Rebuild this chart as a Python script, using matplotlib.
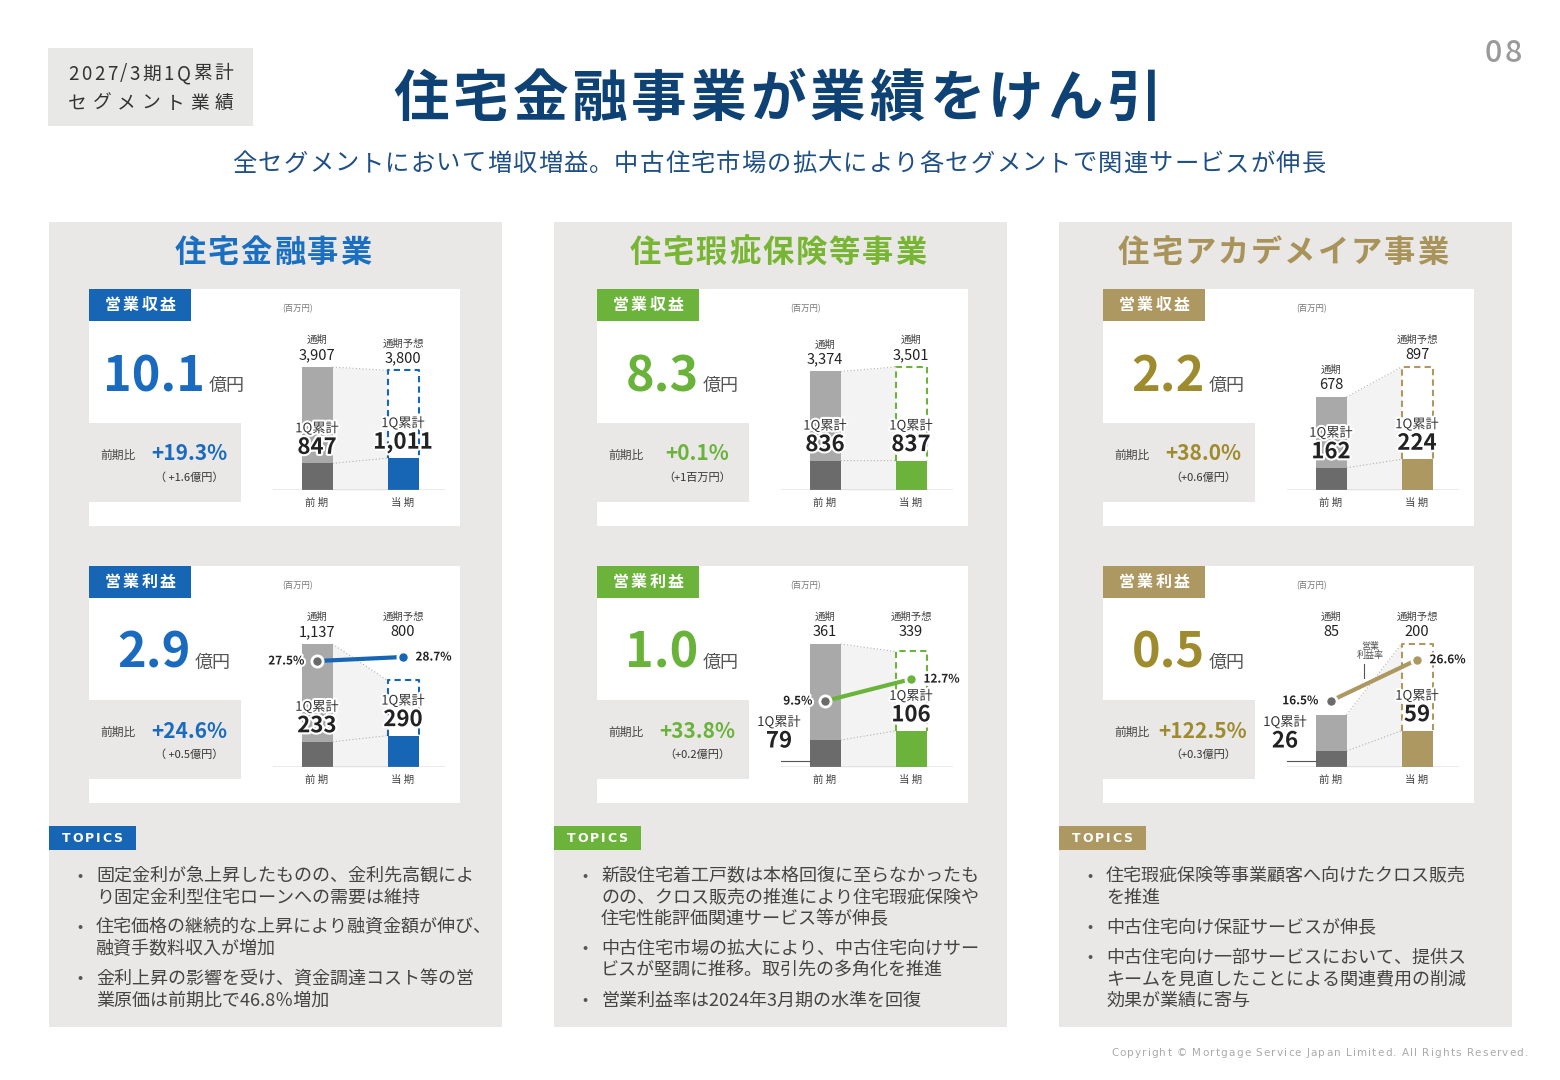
import matplotlib
matplotlib.use('Agg')
import matplotlib.pyplot as plt
import matplotlib.patheffects as pe
from matplotlib.patches import Rectangle

plt.rcParams['font.family'] = ['Noto Sans CJK JP', 'DejaVu Sans']

W, H = 1560, 1080

# ---- data ----
segments = ['住宅金融事業', '住宅瑕疵保険等事業', '住宅アカデメイア事業']

rev_prev_full = [3907, 3374, 678]
rev_prev_1q = [847, 836, 162]
rev_forecast = [3800, 3501, 897]
rev_cur_1q = [1011, 837, 224]
rev_forecast_label = ['通期予想', '通期', '通期予想']
rev_oku = ['10.1', '8.3', '2.2']
rev_yoy = ['+19.3%', '+0.1%', '+38.0%']
rev_diff = ['（ +1.6億円）', '（+1百万円）', '（+0.6億円）']

op_prev_full = [1137, 361, 85]
op_prev_1q = [233, 79, 26]
op_forecast = [800, 339, 200]
op_cur_1q = [290, 106, 59]
margin_prev = [27.5, 9.5, 16.5]
margin_cur = [28.7, 12.7, 26.6]
op_oku = ['2.9', '1.0', '0.5']
op_yoy = ['+24.6%', '+33.8%', '+122.5%']
op_diff = ['（ +0.5億円）', '（+0.2億円）', '（+0.3億円）']

period_labels = ['前期', '当期']

topics = [
    [['固定金利が急上昇したものの、金利先高観によ', 'り固定金利型住宅ローンへの需要は維持'],
     ['住宅価格の継続的な上昇により融資金額が伸び、', '融資手数料収入が増加'],
     ['金利上昇の影響を受け、資金調達コスト等の営', '業原価は前期比で46.8％増加']],
    [['新設住宅着工戸数は本格回復に至らなかったも', 'のの、クロス販売の推進により住宅瑕疵保険や',
      '住宅性能評価関連サービス等が伸長'],
     ['中古住宅市場の拡大により、中古住宅向けサー', 'ビスが堅調に推移。取引先の多角化を推進'],
     ['営業利益率は2024年3月期の水準を回復']],
    [['住宅瑕疵保険等事業顧客へ向けたクロス販売', 'を推進'],
     ['中古住宅向け保証サービスが伸長'],
     ['中古住宅向け一部サービスにおいて、提供ス', 'キームを見直したことによる関連費用の削減',
      '効果が業績に寄与']],
]

# ---- layout / style ----
panel_x = [49, 554, 1059]
card_x = [89, 597, 1103]
accent = ['#1766b5', '#6cb33c', '#ad9862']
title_col = ['#1b6fc1', '#78b532', '#a8935a']
number_col = ['#1a6bbf', '#6ab33a', '#9e8b2e']
margin_lim = [(-4.3, 43.7), (-0.1, 23.2), (0.2, 39.6)]
# (text x, text y, tick x, tick y0, tick y1) relative to the profit card
rate_note = [(269, 123, 263, 99, 111), (266, 94, 260, 107, 121), (267, 85, 261, 98, 112)]
op_1q_outside = [False, True, True]

PANEL_BG = '#e9e8e6'
LIGHT = '#a9a9a9'
DARK = '#6b6b6b'
TXT = '#222222'
white_edge = [pe.withStroke(linewidth=3, foreground='white')]

fig = plt.figure(figsize=(W / 100, H / 100), dpi=100)
bg = fig.add_axes([0, 0, 1, 1])
bg.set_xlim(0, W)
bg.set_ylim(H, 0)
bg.axis('off')
renderer = fig.canvas.get_renderer()


def rect(x, y, w, h, color, **kw):
    bg.add_patch(Rectangle((x, y), w, h, facecolor=color, edgecolor='none', **kw))


def tracked(x, y, s, track, ha='left', **kw):
    # place characters one by one so letter spacing can be widened
    texts = [bg.text(0, y, ch, va='center', **kw) for ch in s]
    size_px = kw.get('fontsize', 10) * 100 / 72
    widths = []
    for ch, t in zip(s, texts):
        w = t.get_window_extent(renderer).width
        if ch == ' ':
            w = size_px * 0.3
        widths.append(w)
    total = sum(widths) + track * (len(s) - 1)
    pos = x - {'left': 0, 'center': total / 2, 'right': total}[ha]
    for t, w in zip(texts, widths):
        t.set_x(pos)
        pos += w + track


# header
rect(48, 48, 205, 78, '#e8e8e6')
tracked(68, 74, '2027/3期1Q累計', 2.5, fontsize=13.5, color='#333')
tracked(68, 103, 'セグメント業績', 5.7, fontsize=13.5, color='#333')
tracked(1503, 54, '08', 3, ha='center', fontsize=22, color='#9a9a9a', weight='medium')
tracked(778, 100, '住宅金融事業が業績をけん引', 4, ha='center', fontsize=40, weight='bold',
        color='#0f4274')
tracked(779, 164, '全セグメントにおいて増収増益。中古住宅市場の拡大により各セグメントで関連サービスが伸長',
        1.2, ha='center', fontsize=17.5, color='#1f4f85')
tracked(1528, 1053, 'Copyright © Mortgage Service Japan Limited. All Rights Reserved.', 1.15,
        ha='right', fontsize=7.5, color='#aaaaaa', family='DejaVu Sans')


def number_block(cx, base, num, color):
    t1 = bg.text(0, base, num, fontsize=35, weight='bold', color=color, va='baseline')
    t2 = bg.text(0, base, '億円', fontsize=13, color='#555', va='baseline')
    w1 = t1.get_window_extent(renderer).width
    w2 = t2.get_window_extent(renderer).width
    left = cx - (w1 + 4 + w2) / 2
    t1.set_x(left)
    t2.set_x(left + w1 + 4)


def chart(i, base_y, full, q1, fc, cur, fc_label, fixed_row, m=None, outside=False):
    left = card_x[i] + 184
    ax = fig.add_axes([left / W, 1 - base_y / H, 172 / W, 160 / H])
    ymax = max(full, fc) * 160 / 123
    ax.set_xlim(-44 / 86, 128 / 86)
    ax.set_ylim(0, ymax)
    ax.axis('off')
    py = ymax / 160
    bw = 31 / 86
    xs = [bw / 2, 1 - bw / 2]
    ax.fill_between(xs, [full, fc], 0, color='#f3f3f3', lw=0, zorder=1)
    ax.plot(xs, [full, fc], ls=(0, (1, 2)), color='#b0b0b0', lw=0.8, zorder=1.5)
    ax.plot(xs, [q1, cur], ls=(0, (1, 2)), color='#b0b0b0', lw=0.8, zorder=1.5)
    ax.bar(0, full, bw, color=LIGHT, zorder=2)
    ax.bar(0, q1, bw, color=DARK, zorder=2.1)
    ax.bar(1, cur, bw, color=accent[i], zorder=2.2)
    # dashed outline for the full-year forecast, above the 1Q bar
    ax.plot([1 - bw / 2, 1 - bw / 2, 1 + bw / 2, 1 + bw / 2], [cur, fc, fc, cur],
            color=accent[i], ls=(0, (3, 2)), lw=1.5, zorder=2.3)
    ax.axhline(0, color='#9a9a9a', lw=1, zorder=3)
    for x, lab in zip([0, 1], period_labels):
        ax.annotate(lab[0] + ' ' + lab[1], (x, 0), xytext=(0, -9), textcoords='offset points',
                    ha='center', va='center', fontsize=7.5, color='#444')

    for x, v, lab in [(0, full, '通期'), (1, fc, fc_label)]:
        if fixed_row:
            ny, ly = 135 * py, 150 * py
        else:
            ny, ly = v + 12 * py, v + 27 * py
        ax.text(x, ny, f'{v:,}', ha='center', va='center', fontsize=10.5, color=TXT)
        ax.text(x, ly, lab, ha='center', va='center', fontsize=7.5, color='#444')

    for x, v, out in [(0, q1, outside), (1, cur, False)]:
        if out:
            tx, ny, ly = x - 46 / 86, 26 * py, 45 * py
            ax.plot([tx, tx, -bw / 2], [13 * py, 6 * py, 6 * py], color='#555', lw=0.8, zorder=3)
        else:
            tx, ny, ly = x, v + 16 * py, v + 35 * py
        ax.text(tx, ly, '1Q累計', ha='center', va='center', fontsize=9.5, color='#333',
                path_effects=white_edge, zorder=6)
        ax.text(tx, ny, f'{v:,}', ha='center', va='center', fontsize=16, weight='bold',
                color=TXT, path_effects=white_edge, zorder=6)

    if m is not None:
        ax2 = ax.twinx()
        ax2.set_ylim(margin_lim[i])
        ax2.axis('off')
        ax2.plot([0, 1], m, color=accent[i], lw=3, zorder=4)
        ax2.scatter([0], [m[0]], s=65, color='#6b6b6b', edgecolor='white', linewidth=2, zorder=5)
        ax2.scatter([1], [m[1]], s=65, color=accent[i], edgecolor='white', linewidth=2, zorder=5)
        ax2.annotate(f'{m[0]}%', (0, m[0]), xytext=(-9, 0), textcoords='offset points',
                     ha='right', va='center', fontsize=8.5, weight='bold', color=TXT,
                     path_effects=white_edge)
        ax2.annotate(f'{m[1]}%', (1, m[1]), xytext=(9, 0), textcoords='offset points',
                     ha='left', va='center', fontsize=8.5, weight='bold', color=TXT,
                     path_effects=white_edge)


def card(i, top, tag, oku, yoy, diff):
    cx = card_x[i]
    rect(cx, top, 371, 237, 'white')
    rect(cx, top, 102, 32, accent[i])
    tracked(cx + 51, top + 16, tag, 2.3, ha='center', fontsize=11.5, weight='bold', color='white')
    number_block(cx + 85, top + 102, oku, number_col[i])
    rect(cx, top + 134, 152, 79, PANEL_BG)
    bg.text(cx + 11, top + 166, '前期比', fontsize=8.5, color='#444', va='center')
    bg.text(cx + 100, top + 165, yoy, fontsize=15, weight='bold', color=number_col[i],
            ha='center', va='center')
    bg.text(cx + 100, top + 189, diff, fontsize=8, color='#333', ha='center', va='center')
    bg.text(cx + 209, top + 20, '(百万円)', fontsize=6, color='#777', ha='center', va='center')


for i in range(3):
    px = panel_x[i]
    rect(px, 222, 453, 805, PANEL_BG)
    tracked(px + 224, 253, segments[i], 2, ha='center', fontsize=22.5, weight='bold',
            color=title_col[i])

    card(i, 289, '営業収益', rev_oku[i], rev_yoy[i], rev_diff[i])
    chart(i, 490, rev_prev_full[i], rev_prev_1q[i], rev_forecast[i], rev_cur_1q[i],
          rev_forecast_label[i], False)

    card(i, 566, '営業利益', op_oku[i], op_yoy[i], op_diff[i])
    chart(i, 767, op_prev_full[i], op_prev_1q[i], op_forecast[i], op_cur_1q[i],
          '通期予想', True, m=[margin_prev[i], margin_cur[i]], outside=op_1q_outside[i])
    tx, ty, kx, k0, k1 = rate_note[i]
    bg.text(card_x[i] + tx, 566 + ty, '営業\n利益率', fontsize=6.5, color='#555',
            ha='center', va='center', linespacing=1.1)
    bg.plot([card_x[i] + kx] * 2, [566 + k0, 566 + k1], color='#555', lw=0.8)

    # topics
    rect(px, 826, 87, 24, accent[i])
    tracked(px + 43, 838, 'TOPICS', 2, ha='center', fontsize=9, weight='bold', color='white',
            family='DejaVu Sans')
    y = 876
    for item in topics[i]:
        bg.text(px + 31, y, '•', fontsize=11, color='#555', ha='center', va='center')
        for line in item:
            bg.text(px + 47, y, line, fontsize=13, color='#444', va='center')
            y += 21.5
        y += 8.5

fig.savefig('out.png', dpi=100)
